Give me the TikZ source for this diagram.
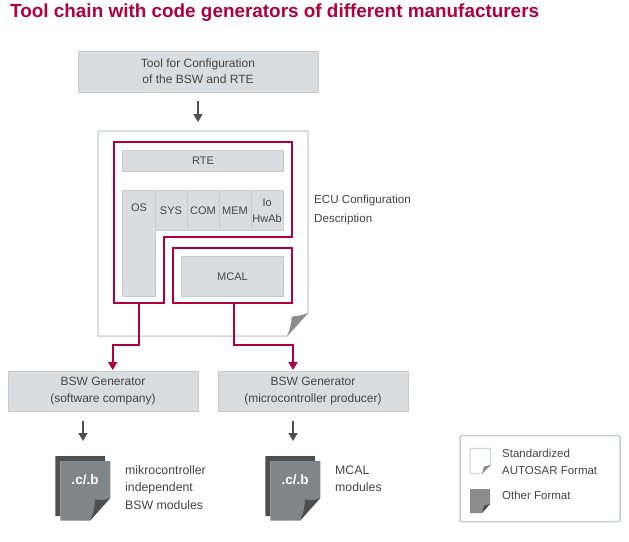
\documentclass[tikz,border=0pt]{standalone}
\usepackage{fontspec}
\setmainfont{Liberation Sans}
\usepackage{xcolor}
\usetikzlibrary{calc,arrows.meta}

\definecolor{chainred}{HTML}{B1003A}
\definecolor{boxgray}{HTML}{DADDE0}
\definecolor{boxline}{HTML}{C8CCCF}
\definecolor{pageline}{HTML}{D4D8DA}
\definecolor{darkdoc}{HTML}{4F4F4F}
\definecolor{frontdoc}{HTML}{7F8589}
\definecolor{foldgray}{HTML}{8C8C8C}
\definecolor{labelgray}{HTML}{444444}

\tikzset{
  graybox/.style={draw=boxline,fill=boxgray,line width=1pt,inner sep=0pt,align=center,
    text=labelgray,font=\fontsize{11}{16}\selectfont},
  widebox/.style={graybox,minimum height=40pt,font=\fontsize{12}{16.3}\selectfont},
  sidetext/.style={anchor=north west,inner sep=0pt,align=left,text=labelgray,
    font=\fontsize{12.3}{17.2}\selectfont},
  redframe/.style={draw=chainred,line width=2pt},
  redarrow/.style={draw=chainred,line width=2pt,-{Triangle[length=8pt,width=9pt]}},
  grayarrow/.style={draw=darkdoc,line width=1.6pt,-{Triangle[length=8pt,width=9pt]}},
}

\begin{document}
\begin{tikzpicture}[x=1pt,y=-1pt]
  \useasboundingbox (0,0) rectangle (629,541);

  % Title
  \node[anchor=west,inner sep=0pt,text=chainred,font=\fontsize{18.9}{22}\selectfont\bfseries] (title) at (10,12.5)
    {Tool chain with code generators of different manufacturers};

  % Configuration tool
  \node[widebox,minimum width=240pt,minimum height=41pt] (tool) at (198,71.5)
    {Tool for Configuration\\of the BSW and RTE};

  % ECU configuration page with folded corner
  \draw[pageline,fill=white,line width=1.5pt,line join=round] (98,131) -- (308,131) -- (308,313) -- (287,336) -- (98,336) -- cycle;
  \fill[foldgray] (287,336) -- (308,313) .. controls (300,316) and (296,316) .. (291.7,316.7) .. controls (291.5,323) and (290,330) .. (287,336);
  \coordinate (toolout) at (198,101);
  \coordinate (pagein) at (198,122);
  \draw[grayarrow] (toolout) -- (pagein);

  % BSW modules
  \node[graybox,minimum width=160.6pt,minimum height=20.3pt] (rte) at (203,160.85) {RTE};
  \node[graybox,minimum width=32.3pt,minimum height=105.3pt] (os) at (138.85,243.35) {};
  \node[text=labelgray,inner sep=0pt,font=\fontsize{11}{16}\selectfont] (oslabel) at (139,207.5) {OS};
  \node[graybox,minimum width=32pt,minimum height=40pt] (sys) at (171,210.7) {SYS};
  \node[graybox,minimum width=32pt,minimum height=40pt] (com) at (203,210.7) {COM};
  \node[graybox,minimum width=32pt,minimum height=40pt] (mem) at (235,210.7) {MEM};
  \node[graybox,minimum width=32.3pt,minimum height=40pt] (iohwab) at (267.15,210.7) {Io\\HwAb};
  \node[graybox,minimum width=101.6pt,minimum height=40.3pt] (mcal) at (232.5,276.3) {MCAL};

  % Red groups
  \draw[redframe,miter limit=10] (114,142.3) -- (292,142.3) -- (292,237.3) -- (163.7,237.3) -- (163.7,303.3) -- (114,303.3) -- cycle;
  \node[redframe,minimum width=119.3pt,minimum height=55.3pt,inner sep=0pt] (mcalframe) at (232.35,275.65) {};
  \coordinate (bswout) at (139,303.3);
  \coordinate (mcalout) at (234,303.3);

  % Generators
  \node[widebox,minimum width=190pt] (genA) at (103,391)
    {BSW Generator\\(software company)};
  \node[widebox,minimum width=190pt] (genB) at (313,391)
    {BSW Generator\\(microcontroller producer)};
  \coordinate (genAin) at (112.7,370);
  \coordinate (genBin) at (293,370);
  \draw[redarrow] (bswout) -- (139,345) -| (genAin);
  \draw[redarrow] (mcalout) -- (234,345) -| (genBin);

  \coordinate (docA) at (83,441);
  \coordinate (docB) at (293,441);
  \draw[grayarrow] (83,421) -- (docA);
  \draw[grayarrow] (293,421) -- (docB);

  % Generated code documents
  \foreach \dx/\name in {0/A,210/B}{
    \begin{scope}[xshift=\dx pt]
      \fill[darkdoc] (55.3,456) -- (105,456) -- (105,461) -- (60.3,461) -- (60.3,516) -- (55.3,516) -- cycle;
      \fill[frontdoc] (60.3,461) -- (110.3,461) -- (110.3,498) -- (90,520.7) -- (60.3,520.7) -- cycle;
      \fill[darkdoc] (90,520.7) -- (110.3,498) .. controls (104,501) and (99,500) .. (95,499.3) .. controls (95,507) and (93,514) .. (90,520.7);
      \node[text=white,inner sep=0pt,font=\fontsize{13.5}{15}\selectfont\bfseries] (code\name) at (85,479.5) {.c/.b};
    \end{scope}
  }

  % Side texts
  \node[sidetext,font=\fontsize{11.6}{19}\selectfont] (ecutext) at (314,195) {ECU Configuration\\Description};
  \node[sidetext] (bswtext) at (125,465.5) {mikrocontroller\\independent\\BSW modules};
  \node[sidetext] (mcaltext) at (335,465.5) {MCAL\\modules};

  % Legend
  \node[draw=boxline,line width=1.5pt,minimum width=160pt,minimum height=86pt,inner sep=0pt,rounded corners=1pt] (legend) at (540,478.7) {};
  \draw[pageline,fill=white,line width=1.2pt] (470,448.5) -- (490.5,448.5) -- (490.5,465) -- (482,473.5) -- (470,473.5) -- cycle;
  \fill[foldgray] (482,473.5) -- (490.5,465) -- (484,466.5) -- cycle;
  \fill[foldgray] (470,489) -- (490,489) -- (490,504) -- (482,513) -- (470,513) -- cycle;
  \fill[darkdoc] (482,513) -- (490,504) -- (484,505.5) -- cycle;
  \node[sidetext,font=\fontsize{11.5}{17}\selectfont] (stdtext) at (502,448.5) {Standardized\\AUTOSAR Format};
  \node[sidetext,font=\fontsize{11.5}{17}\selectfont] (othertext) at (502,491) {Other Format};
\end{tikzpicture}
\end{document}
